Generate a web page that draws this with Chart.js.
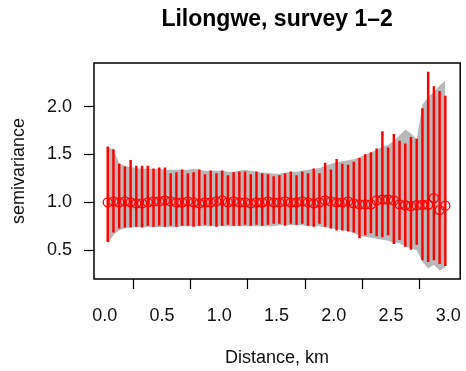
<!DOCTYPE html>
<html>
<head>
<meta charset="utf-8">
<script src="https://cdn.jsdelivr.net/npm/chart.js@4"></script>
<style>
    body { margin: 0; background: #fff; }
    #wrap { width: 466px; height: 371px; }
</style>
</head>
<body>
<div id="wrap"><canvas id="chartVario"></canvas></div>
<script>
// bin centres (km)
const dist = [0.025, 0.075, 0.125, 0.175, 0.225, 0.275, 0.325, 0.375, 0.425, 0.475,
    0.525, 0.575, 0.625, 0.675, 0.725, 0.775, 0.825, 0.875, 0.925, 0.975,
    1.025, 1.075, 1.125, 1.175, 1.225, 1.275, 1.325, 1.375, 1.425, 1.475,
    1.525, 1.575, 1.625, 1.675, 1.725, 1.775, 1.825, 1.875, 1.925, 1.975,
    2.025, 2.075, 2.125, 2.175, 2.225, 2.275, 2.325, 2.375, 2.425, 2.475,
    2.525, 2.575, 2.625, 2.675, 2.725, 2.775, 2.825, 2.875, 2.925, 2.975];

// empirical semivariance
const gamma = [1.00, 1.01, 1.00, 1.01, 1.00, 0.99, 0.99, 1.00, 1.01, 1.01,
    1.02, 1.01, 1.00, 1.00, 1.01, 1.00, 0.99, 1.00, 1.00, 1.01,
    1.02, 1.00, 1.01, 1.00, 1.00, 0.99, 1.00, 1.00, 1.01, 1.00,
    1.00, 1.01, 1.00, 1.00, 1.01, 1.00, 0.99, 1.00, 1.02, 1.01,
    1.00, 1.00, 1.01, 0.99, 0.98, 0.98, 0.98, 1.02, 1.03, 1.03,
    1.02, 0.98, 0.97, 0.96, 0.97, 0.975, 0.975, 1.045, 0.92, 0.965];

// interval limits per bin
const gammaLo = [0.59, 0.69, 0.73, 0.74, 0.74, 0.75, 0.74, 0.76, 0.75, 0.76,
    0.75, 0.76, 0.75, 0.76, 0.76, 0.75, 0.76, 0.77, 0.76, 0.75,
    0.76, 0.77, 0.76, 0.76, 0.77, 0.76, 0.77, 0.76, 0.77, 0.78,
    0.78, 0.76, 0.78, 0.77, 0.78, 0.76, 0.75, 0.78, 0.75, 0.73,
    0.71, 0.71, 0.70, 0.69, 0.63, 0.66, 0.68, 0.65, 0.64, 0.66,
    0.57, 0.61, 0.54, 0.51, 0.56, 0.40, 0.38, 0.40, 0.36, 0.34];
const gammaHi = [1.58, 1.55, 1.40, 1.37, 1.44, 1.38, 1.38, 1.38, 1.35, 1.36,
    1.36, 1.30, 1.31, 1.34, 1.30, 1.31, 1.34, 1.29, 1.33, 1.30,
    1.33, 1.28, 1.31, 1.32, 1.32, 1.29, 1.32, 1.30, 1.29, 1.27,
    1.28, 1.30, 1.32, 1.28, 1.32, 1.30, 1.35, 1.30, 1.41, 1.34,
    1.45, 1.40, 1.39, 1.42, 1.46, 1.50, 1.52, 1.56, 1.74, 1.57,
    1.71, 1.64, 1.61, 1.68, 1.66, 1.98, 2.36, 2.21, 2.16, 2.11];

// simulation envelope
const envLo = [0.56, 0.66, 0.71, 0.73, 0.74, 0.74, 0.74, 0.74, 0.74, 0.74,
    0.74, 0.74, 0.74, 0.75, 0.75, 0.75, 0.75, 0.75, 0.75, 0.75,
    0.75, 0.75, 0.75, 0.75, 0.75, 0.75, 0.75, 0.75, 0.75, 0.75,
    0.76, 0.76, 0.76, 0.76, 0.76, 0.75, 0.75, 0.75, 0.74, 0.73,
    0.72, 0.71, 0.70, 0.68, 0.65, 0.64, 0.63, 0.62, 0.61, 0.60,
    0.58, 0.57, 0.54, 0.52, 0.50, 0.38, 0.31, 0.35, 0.29, 0.32];
const envHi = [1.58, 1.55, 1.41, 1.38, 1.37, 1.36, 1.35, 1.35, 1.35, 1.35,
    1.34, 1.34, 1.34, 1.34, 1.34, 1.35, 1.34, 1.33, 1.33, 1.33,
    1.33, 1.32, 1.32, 1.33, 1.34, 1.33, 1.32, 1.31, 1.31, 1.30,
    1.30, 1.31, 1.32, 1.32, 1.33, 1.34, 1.35, 1.36, 1.38, 1.40,
    1.42, 1.43, 1.44, 1.45, 1.47, 1.50, 1.52, 1.55, 1.58, 1.60,
    1.64, 1.70, 1.76, 1.72, 1.66, 2.02, 2.10, 2.15, 2.22, 2.27];

const xTicks = [0.0, 0.5, 1.0, 1.5, 2.0, 2.5, 3.0];
const yTicks = [0.5, 1.0, 1.5, 2.0];

const fontFam = '"Liberation Sans", Arial, Helvetica, sans-serif';

const xy = (ys) => dist.map((d, i) => ({ x: d, y: ys[i] }));

// frame around the plot region
const boxPlugin = {
    id: 'plotBox',
    afterDatasetsDraw(chart) {
        const a = chart.chartArea;
        const c = chart.ctx;
        c.save();
        c.strokeStyle = '#000';
        c.lineWidth = 1.5;
        c.strokeRect(a.left, a.top, a.right - a.left, a.bottom - a.top);
        c.restore();
    }
};

// fixed axis sizes, no extra room for edge labels
const fixX = (s) => { s.height = 92; s.paddingLeft = 0; s.paddingRight = 0; };
const fixY = (s) => { s.width = 94; s.paddingTop = 0; s.paddingBottom = 0; };

const ctxVario = document.getElementById('chartVario');

new Chart(ctxVario, {
    type: 'scatter',
    data: {
        datasets: [{
            type: 'line',
            data: xy(envHi),
            fill: '+1',
            backgroundColor: '#b9b9b9',
            borderWidth: 0,
            pointRadius: 0,
            tension: 0,
            order: 3
        }, {
            type: 'line',
            data: xy(envLo),
            fill: false,
            borderWidth: 0,
            pointRadius: 0,
            tension: 0,
            order: 3
        }, {
            type: 'bar',
            data: dist.map((d, i) => ({ x: d, y: [gammaLo[i], gammaHi[i]] })),
            backgroundColor: '#ff0000',
            barThickness: 1.8,
            order: 2
        }, {
            type: 'scatter',
            data: xy(gamma),
            pointStyle: 'circle',
            pointRadius: 4.5,
            pointBorderWidth: 1.3,
            borderColor: '#ff0000',
            backgroundColor: 'rgba(0,0,0,0)',
            order: 1
        }]
    },
    options: {
        responsive: true,
        maintainAspectRatio: false,
        devicePixelRatio: 1,
        animation: false,
        layout: { padding: { left: 0, right: 4, top: 0, bottom: 0 } },
        plugins: {
            legend: { display: false },
            tooltip: { enabled: false },
            title: {
                display: true,
                text: 'Lilongwe, survey 1\u20132',
                fullSize: false,
                color: '#000',
                font: { family: fontFam, size: 23, weight: 'bold' },
                padding: { top: 6.2, bottom: 29.2 }
            }
        },
        scales: {
            x: {
                type: 'linear',
                min: -0.095,
                max: 3.105,
                offset: false,
                afterFit: fixX,
                afterBuildTicks: (s) => { s.ticks = xTicks.map(v => ({ value: v })); },
                border: { display: false },
                grid: {
                    drawOnChartArea: false,
                    drawTicks: true,
                    tickLength: 10,
                    tickColor: '#000',
                    tickWidth: 1.2
                },
                ticks: {
                    padding: 16,
                    color: '#111',
                    font: { family: fontFam, size: 18 },
                    maxRotation: 0,
                    callback: (v) => Number(v).toFixed(1)
                },
                title: {
                    display: true,
                    text: 'Distance, km',
                    color: '#111',
                    font: { family: fontFam, size: 18 },
                    padding: { top: 4, bottom: 2 }
                }
            },
            y: {
                type: 'linear',
                min: 0.2,
                max: 2.455,
                afterFit: fixY,
                afterBuildTicks: (s) => { s.ticks = yTicks.map(v => ({ value: v })); },
                border: { display: false },
                grid: {
                    drawOnChartArea: false,
                    drawTicks: true,
                    tickLength: 10,
                    tickColor: '#000',
                    tickWidth: 1.2
                },
                ticks: {
                    padding: 12,
                    color: '#111',
                    font: { family: fontFam, size: 18 },
                    callback: (v) => Number(v).toFixed(1)
                },
                title: {
                    display: true,
                    text: 'semivariance',
                    color: '#111',
                    font: { family: fontFam, size: 18 },
                    padding: { top: 8, bottom: 4 }
                }
            }
        }
    },
    plugins: [boxPlugin]
});
</script>
</body>
</html>
